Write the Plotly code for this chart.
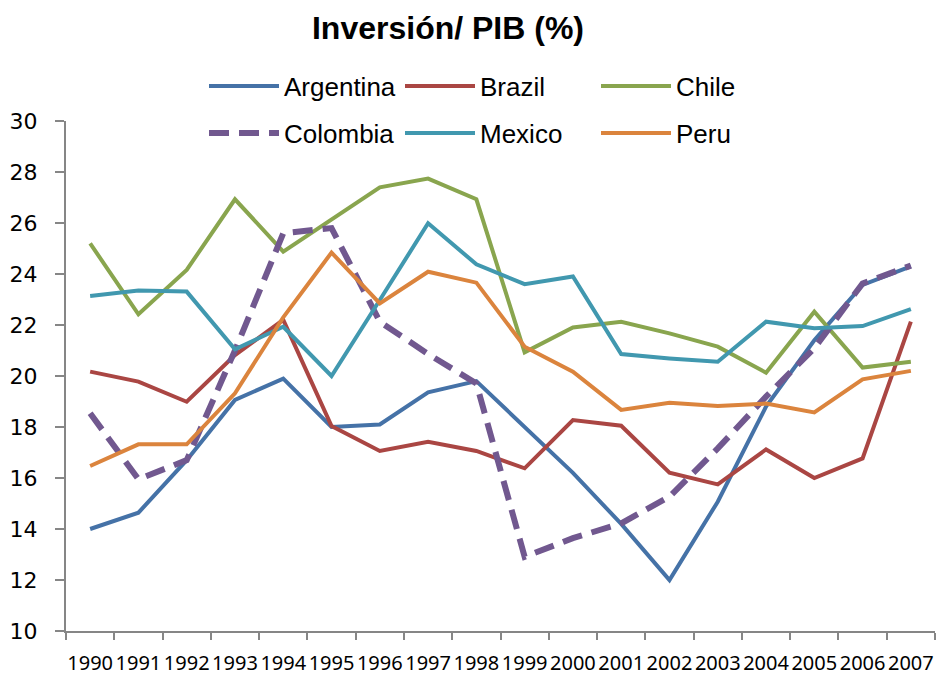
import plotly.graph_objects as go

years = [str(y) for y in range(1990, 2008)]

argentina = [14.0, 14.64, 16.7, 19.06, 19.9, 18.0, 18.1, 19.36, 19.8, 18.0, 16.2, 14.2, 12.0, 15.07, 18.8, 21.4, 23.57, 24.3]
brazil = [20.17, 19.78, 18.99, 20.82, 22.2, 18.04, 17.06, 17.42, 17.06, 16.38, 18.27, 18.05, 16.21, 15.75, 17.12, 16.0, 16.77, 22.13]
chile = [25.2, 22.42, 24.16, 26.93, 24.88, 26.14, 27.4, 27.74, 26.93, 20.93, 21.9, 22.13, 21.67, 21.15, 20.13, 22.52, 20.33, 20.56]
colombia = [18.54, 15.95, 16.7, 21.0, 25.6, 25.8, 22.13, 20.86, 19.71, 12.91, 13.64, 14.22, 15.27, 17.16, 19.19, 21.09, 23.63, 24.33]
mexico = [23.14, 23.35, 23.31, 21.05, 21.93, 20.0, 22.98, 25.99, 24.38, 23.6, 23.9, 20.86, 20.69, 20.56, 22.13, 21.87, 21.96, 22.62]
peru = [16.47, 17.32, 17.32, 19.32, 22.3, 24.84, 22.85, 24.09, 23.66, 21.15, 20.17, 18.67, 18.95, 18.82, 18.92, 18.57, 19.87, 20.2]

series = [
    ("Argentina", argentina, "#4572A7", "solid", 4, "legend"),
    ("Brazil", brazil, "#AA4643", "solid", 4, "legend"),
    ("Chile", chile, "#89A54E", "solid", 4, "legend"),
    ("Colombia", colombia, "#71588F", "20px,10px", 6, "legend2"),
    ("Mexico", mexico, "#4198AF", "solid", 4, "legend2"),
    ("Peru", peru, "#DB843D", "solid", 4, "legend2"),
]

fig = go.Figure()
for name, vals, color, dash, width, leg in series:
    fig.add_trace(go.Scatter(
        x=years, y=vals, name=name, mode="lines",
        line=dict(color=color, width=width, dash=dash),
        legend=leg,
    ))

axis_color = "#868686"
legend_font = dict(family="Liberation Sans, Arial, sans-serif", size=26, color="#000000")
common_legend = dict(
    orientation="h", xref="container", yref="container",
    xanchor="left", yanchor="middle",
    entrywidth=111, entrywidthmode="pixels",
    itemwidth=70, font=legend_font, bgcolor="rgba(0,0,0,0)",
    traceorder="normal",
)

fig.update_layout(
    width=936, height=678,
    margin=dict(l=66, r=1, t=121, b=47, autoexpand=False),
    paper_bgcolor="white", plot_bgcolor="white",
    title=dict(
        text="<b>Inversión/ PIB (%)</b>",
        font=dict(family="Liberation Sans, Arial, sans-serif", size=32, color="#000000"),
        x=448 / 936, xanchor="center", xref="container",
        y=1 - 28 / 678, yanchor="middle", yref="container",
    ),
    legend=dict(x=204 / 936, y=1 - 86 / 678, **common_legend),
    legend2=dict(x=204 / 936, y=1 - 133 / 678, **common_legend),
    xaxis=dict(
        type="category", tickson="boundaries", tickangle=0, automargin=False,
        range=[-0.5, len(years) - 0.5],
        showline=True, linecolor=axis_color, linewidth=2,
        ticks="outside", ticklen=7, tickwidth=2, tickcolor=axis_color,
        showgrid=False, zeroline=False,
        tickfont=dict(family="Noto Sans, DejaVu Sans, sans-serif", size=20, color="#000000"),
        ticklabelstandoff=13,
    ),
    yaxis=dict(
        range=[10, 30], dtick=2, tick0=10, automargin=False,
        showline=True, linecolor=axis_color, linewidth=2,
        ticks="outside", ticklen=9, tickwidth=2, tickcolor=axis_color,
        showgrid=False, zeroline=False,
        tickfont=dict(family="DejaVu Sans, sans-serif", size=22, color="#000000"),
        ticklabelstandoff=13,
    ),
)

fig.write_html("out.html", config={"displayModeBar": False})

# remove the default 8px body margin so the figure sits at the window origin
with open("out.html", "r", encoding="utf-8") as f:
    html = f.read()
html = html.replace("<body>", '<body style="margin:0;padding:0;overflow:hidden;">', 1)
with open("out.html", "w", encoding="utf-8") as f:
    f.write(html)
